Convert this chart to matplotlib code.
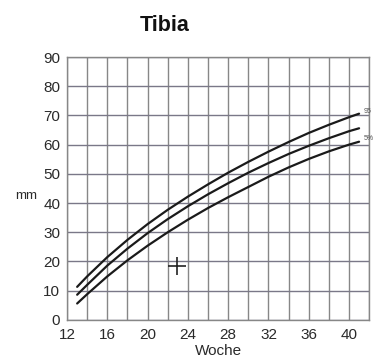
import matplotlib
matplotlib.use("Agg")
import matplotlib.pyplot as plt
import numpy as np

plt.rcParams['font.family'] = ['Liberation Sans', 'DejaVu Sans']

weeks = [13, 14, 16, 18, 20, 22, 24, 26, 28, 30, 32, 34, 36, 38, 40, 41]
p95 = [11.3, 14.9, 21.5, 27.4, 32.8, 37.7, 42.2, 46.4, 50.4, 54.1, 57.6, 60.9, 64.0, 66.8, 69.4, 70.6]
p50 = [8.6, 12.0, 18.6, 24.4, 29.7, 34.5, 38.9, 43.0, 46.8, 50.4, 53.7, 56.8, 59.6, 62.2, 64.6, 65.6]
p5 = [5.6, 8.8, 14.9, 20.4, 25.4, 30.0, 34.3, 38.3, 42.0, 45.5, 49.0, 52.2, 55.1, 57.7, 60.0, 61.0]
marker_week = [22.9]
marker_mm = [18.5]
xticks = [12, 16, 20, 24, 28, 32, 36, 40]
yticks = [0, 10, 20, 30, 40, 50, 60, 70, 80, 90]

fig = plt.figure(figsize=(3.79, 3.61), dpi=100)
ax = fig.add_axes([0.177, 0.114, 0.797, 0.728])
ax.set_xlim(12, 42)
ax.set_ylim(0, 90)

vcol = '#878787'
hcol = '#7a7888'
for w in np.arange(12, 43, 2):
    ax.axvline(w, color=vcol, lw=1.0, zorder=1)
for v in yticks:
    ax.axhline(v, color=hcol, lw=1.0, zorder=1)
for s in ax.spines.values():
    s.set_color(vcol)
    s.set_linewidth(1.0)

for series in (p95, p50, p5):
    ax.plot(weeks, series, color='#1a1a1a', lw=1.6, zorder=3,
            solid_joinstyle='round', solid_capstyle='round')

ax.plot(marker_week, marker_mm, marker='+', ms=13, mew=1.2, color='#222222', ls='none', zorder=4)

ax.text(41.5, p95[-1] + 0.6, '95', fontsize=5, color='#555555', va='center', ha='left', clip_on=False)
ax.text(41.5, p5[-1] + 1.2, '5%', fontsize=5, color='#555555', va='center', ha='left', clip_on=False)

ax.set_xticks(xticks)
ax.set_yticks(yticks)
ax.tick_params(length=0, labelsize=11, colors='#2a2a2a')
ax.tick_params(axis='y', pad=5)
ax.tick_params(axis='x', pad=6)
ax.set_xlabel('Woche', fontsize=11, color='#2a2a2a', labelpad=1)

fig.text(0.435, 0.928, 'Tibia', fontsize=15.5, fontweight='bold', ha='center', va='center', color='#111111')
fig.text(0.07, 0.457, 'mm', fontsize=9.5, ha='center', va='center', color='#2a2a2a')

fig.savefig('out.png', dpi=100, facecolor='white')
